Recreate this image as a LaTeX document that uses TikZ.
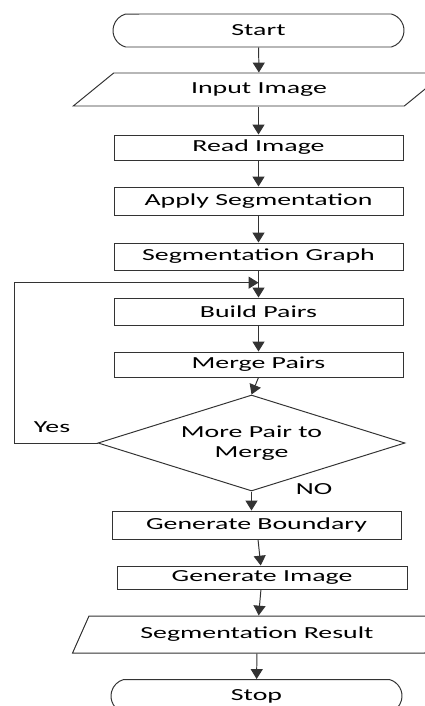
\documentclass[tikz,border=0pt]{standalone}
\usepackage{fontspec}
\setmainfont[FakeStretch=1.65]{Carlito}
\usetikzlibrary{arrows.meta,calc,shapes.geometric,shapes.misc}

\tikzset{
  box/.style={draw, rectangle, minimum height=26*0.025cm, minimum width=289*0.025cm, inner sep=0pt},
  io/.style={draw, trapezium, trapezium stretches=true, inner sep=0pt},
  term/.style={draw, rounded rectangle, rounded rectangle arc length=150, minimum width=291*0.025cm, minimum height=33*0.025cm, inner sep=0pt},
  arr/.style={-{Triangle[width=8.5pt,length=7pt]}}
}

\begin{document}
\begin{tikzpicture}[x=0.025cm, y=-0.025cm, line width=0.7pt, draw=black!80, font=\fontsize{12}{14.5}\selectfont, text=black]
  \useasboundingbox (0,0) rectangle (424,706);
  \node[term] (start) at (258.5,30.5) {Start};
  \node[io, trapezium left angle=36, trapezium right angle=144, minimum width=372*0.025cm, minimum height=33*0.025cm] (input) at (259,89.5) {Input Image};
  \node[box, minimum height=25*0.025cm] (read) at (258.5,147.5) {Read Image};
  \node[box, minimum height=28*0.025cm] (apply) at (258.5,201) {Apply Segmentation};
  \node[box, minimum height=27*0.025cm] (graph) at (258.5,256.5) {Segmentation Graph};
  \node[box, minimum height=27*0.025cm] (build) at (258.5,311.5) {Build Pairs};
  \node[box, minimum height=25*0.025cm] (merge) at (258.5,364.5) {Merge Pairs};
  \node[draw, diamond, aspect=3.2, minimum width=307*0.025cm, minimum height=96*0.025cm, inner sep=0pt, align=center] (more) at (251.5,443) {More Pair to\\Merge};
  \node[box, minimum height=28*0.025cm] (boundary) at (256.5,525) {Generate Boundary};
  \node[box, minimum height=23*0.025cm, minimum width=290*0.025cm] (genimg) at (262,577.5) {Generate Image};
  \node[io, trapezium left angle=52, trapezium right angle=128, minimum width=370*0.025cm, minimum height=37*0.025cm] (result) at (257,634.5) {Segmentation Result};
  \node[term] (stop) at (256.5,696) {Stop};
  \node (yes) at (52,427) {Yes};
  \node (no) at (314,489) {NO};
  \coordinate (join) at ($(graph.south)!0.45!(build.north)$);
  % main flow
  \draw[arr] (start) -- (input);
  \draw[arr] (input.south -| start.south) -- (read);
  \draw[arr] (read) -- (apply);
  \draw[arr] (apply) -- (graph);
  \draw[arr] (graph) -- (build);
  \draw[arr] (build) -- (merge);
  \draw[arr] (merge.south) -- (more.north);
  \draw[arr] (more.south) -- (boundary.north -| more.south);
  \draw[arr] (boundary) -- (genimg);
  \draw[arr] (genimg) -- (result);
  \draw[arr] (result) -- (stop);
  % loop back
  \draw[arr] (more.west) -- ++(-83,0) |- (join);
\end{tikzpicture}
\end{document}
